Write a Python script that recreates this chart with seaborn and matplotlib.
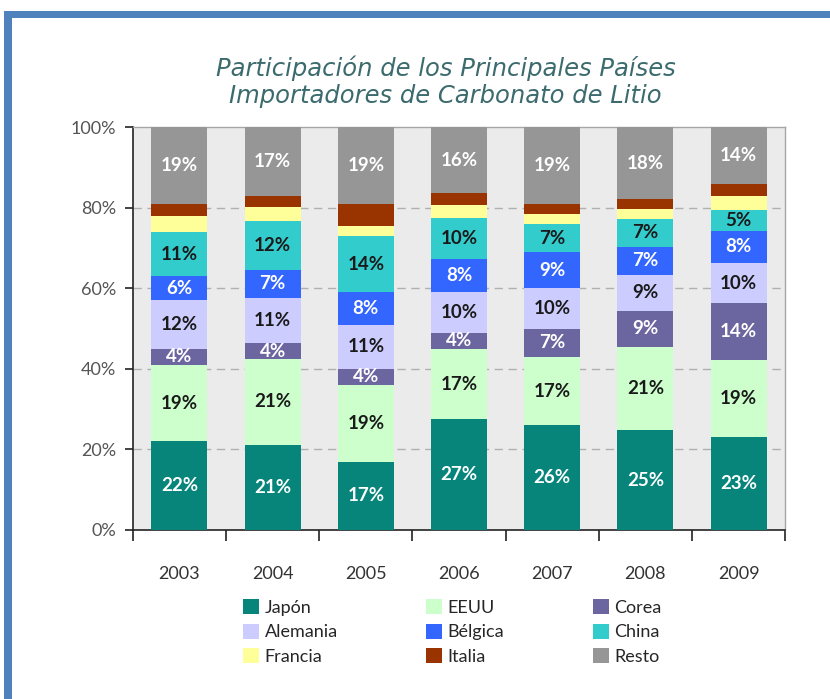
import numpy as np
import pandas as pd
import matplotlib.pyplot as plt
import seaborn as sns
from matplotlib.patches import Patch, Rectangle

years = ["2003", "2004", "2005", "2006", "2007", "2008", "2009"]
countries = ["Japón", "EEUU", "Corea", "Alemania", "Bélgica", "China", "Francia", "Italia", "Resto"]

japon = [22, 21, 17, 27, 26, 25, 23]
eeuu = [19, 21, 19, 17, 17, 21, 19]
corea = [4, 4, 4, 4, 7, 9, 14]
alemania = [12, 11, 11, 10, 10, 9, 10]
belgica = [6, 7, 8, 8, 9, 7, 8]
china = [11, 12, 14, 10, 7, 7, 5]
francia = [4, 3.5, 2.5, 3, 2.5, 2.5, 3.5]
italia = [3, 2.5, 5.5, 3, 2.5, 2.5, 3]
resto = [19, 17, 19, 16, 19, 18, 14]

series = [japon, eeuu, corea, alemania, belgica, china, francia, italia, resto]
colors = ["#07857b", "#ccffcc", "#6b669f", "#ccccff", "#3366ff",
          "#33cccc", "#ffff99", "#993300", "#969696"]
label_colors = ["white", "#1a1a1a", "white", "#1a1a1a", "white",
                "#1a1a1a", None, None, "white"]

df = pd.DataFrame(series, index=countries, columns=years).T
# scale every year to 100 %
shares = df.div(df.sum(axis=1), axis=0) * 100

sns.set_theme(style="white")
plt.rcParams["font.family"] = ["Lato", "DejaVu Sans"]

fig = plt.figure(figsize=(8.3, 6.99), dpi=100)
ax = fig.add_axes([0.160, 0.2418, 0.786, 0.576])
ax.set_facecolor("#ebebeb")

bottom = np.zeros(len(years))
for country, color, lc in zip(countries, colors, label_colors):
    vals = shares[country].values
    sns.barplot(x=years, y=vals, bottom=bottom, color=color, width=0.6,
                saturation=1, linewidth=0, ax=ax, zorder=3)
    if lc is not None:
        for i, (v, b, raw) in enumerate(zip(vals, bottom, df[country].values)):
            ax.text(i, b + v / 2, f"{raw:.0f}%", ha="center", va="center",
                    fontsize=13.5, fontweight="bold", color=lc, zorder=4)
    bottom = bottom + vals

ax.set_xlim(-0.5, len(years) - 0.5)
ax.set_ylim(0, 100)
ax.set_yticks([0, 20, 40, 60, 80, 100])
ax.set_yticklabels(["0%", "20%", "40%", "60%", "80%", "100%"], fontsize=13, color="#555555")
ax.set_xticks(range(len(years)))
ax.set_xticklabels(years, fontsize=13, color="#333333")
ax.set_xticks(np.arange(-0.5, len(years)), minor=True)
ax.tick_params(axis="x", which="major", length=0, pad=26)
ax.tick_params(axis="x", which="minor", length=8, width=1.2, color="#222222", direction="out", bottom=True)
ax.tick_params(axis="y", length=6, width=1.2, color="#222222", direction="out", left=True, pad=6)
ax.set_xlabel("")
ax.set_ylabel("")

for y in [20, 40, 60, 80]:
    ax.axhline(y, color="#b0b0b0", linestyle=(0, (6, 4)), linewidth=1, zorder=1)

for side in ["left", "bottom"]:
    ax.spines[side].set_color("#222222")
    ax.spines[side].set_linewidth(1.2)
for side in ["top", "right"]:
    ax.spines[side].set_color("#a6a6a6")
    ax.spines[side].set_linewidth(1)

fig.text(0.537, 0.883, "Participación de los Principales Países\nImportadores de Carbonato de Litio",
         ha="center", va="center", fontsize=17.5, style="italic", color="#3c6b6e",
         family="DejaVu Sans", linespacing=1.15)

# legend laid out row-wise like the original
order = [0, 3, 6, 1, 4, 7, 2, 5, 8]
handles = [Patch(facecolor=colors[i], edgecolor="none", label=countries[i]) for i in order]
fig.legend(handles=handles, ncol=3, loc="center", bbox_to_anchor=(0.545, 0.096),
           frameon=False, fontsize=13, handlelength=0.9, handleheight=0.9,
           handletextpad=0.3, columnspacing=4.9, labelspacing=0.42)

# blue frame
fig.add_artist(Rectangle((4 / 830, 1 - 18 / 699), 826 / 830, 7 / 699,
                         transform=fig.transFigure, color="#4f81bd", lw=0))
fig.add_artist(Rectangle((4 / 830, 0), 8 / 830, 1 - 11 / 699,
                         transform=fig.transFigure, color="#4f81bd", lw=0))

fig.savefig("out.png", dpi=100)
